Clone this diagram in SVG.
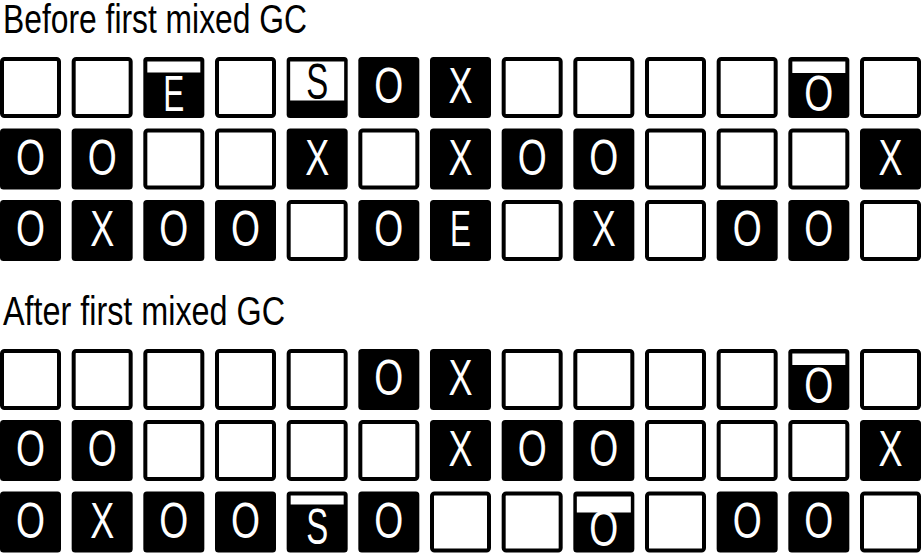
<svg xmlns="http://www.w3.org/2000/svg" xmlns:xlink="http://www.w3.org/1999/xlink" width="921" height="560" viewBox="0 0 921 560">
<style>
.w{fill:#fff;stroke:#000;stroke-width:4}
.b{fill:#000}
.bar{fill:#fff}
.t{font-family:"Liberation Sans",Arial,sans-serif;font-size:40px;fill:#000}
.l{font-family:"Liberation Sans",Arial,sans-serif;font-size:50px;text-anchor:middle}
.lw{fill:#fff}
.lb{fill:#000}
</style>
<defs>
<rect id="wc" class="w" x="2" y="2" width="57" height="57" rx="2.5"/>
<rect id="bc" class="b" width="61" height="61" rx="3.5"/>
</defs>
<rect width="921" height="560" fill="#fff"/>
<text class="t" x="3" y="33" textLength="304" lengthAdjust="spacingAndGlyphs">Before first mixed GC</text>
<text class="t" x="3" y="325" textLength="282" lengthAdjust="spacingAndGlyphs">After first mixed GC</text>
<g id="before">
<!-- row 1 -->
<g id="b1-1" transform="translate(0,57)"><use href="#wc"/></g>
<g id="b1-2" transform="translate(71.67,57)"><use href="#wc"/></g>
<g id="b1-3" transform="translate(143.33,57)"><use href="#bc"/><rect class="bar" x="4" y="4.5" width="53" height="11"/><text class="l lw" x="30.5" y="54" textLength="21" lengthAdjust="spacingAndGlyphs">E</text></g>
<g id="b1-4" transform="translate(215,57)"><use href="#wc"/></g>
<g id="b1-5" transform="translate(286.67,57)"><use href="#bc"/><rect class="bar" x="3.5" y="4.5" width="54" height="39"/><text class="l lb" x="30.5" y="42" textLength="22" lengthAdjust="spacingAndGlyphs">S</text></g>
<g id="b1-6" transform="translate(358.33,57)"><use href="#bc"/><text class="l lw" x="30.5" y="46" textLength="29" lengthAdjust="spacingAndGlyphs">O</text></g>
<g id="b1-7" transform="translate(430,57)"><use href="#bc"/><text class="l lw" x="30.5" y="46" textLength="24" lengthAdjust="spacingAndGlyphs">X</text></g>
<g id="b1-8" transform="translate(501.67,57)"><use href="#wc"/></g>
<g id="b1-9" transform="translate(573.33,57)"><use href="#wc"/></g>
<g id="b1-10" transform="translate(645,57)"><use href="#wc"/></g>
<g id="b1-11" transform="translate(716.67,57)"><use href="#wc"/></g>
<g id="b1-12" transform="translate(788.33,57)"><use href="#bc"/><rect class="bar" x="4" y="4.5" width="53" height="11.5"/><text class="l lw" x="30.5" y="54" textLength="29" lengthAdjust="spacingAndGlyphs">O</text></g>
<g id="b1-13" transform="translate(860,57)"><use href="#wc"/></g>
<!-- row 2 -->
<g id="b2-1" transform="translate(0,128.5)"><use href="#bc"/><text class="l lw" x="30.5" y="46" textLength="29" lengthAdjust="spacingAndGlyphs">O</text></g>
<g id="b2-2" transform="translate(71.67,128.5)"><use href="#bc"/><text class="l lw" x="30.5" y="46" textLength="29" lengthAdjust="spacingAndGlyphs">O</text></g>
<g id="b2-3" transform="translate(143.33,128.5)"><use href="#wc"/></g>
<g id="b2-4" transform="translate(215,128.5)"><use href="#wc"/></g>
<g id="b2-5" transform="translate(286.67,128.5)"><use href="#bc"/><text class="l lw" x="30.5" y="46" textLength="24" lengthAdjust="spacingAndGlyphs">X</text></g>
<g id="b2-6" transform="translate(358.33,128.5)"><use href="#wc"/></g>
<g id="b2-7" transform="translate(430,128.5)"><use href="#bc"/><text class="l lw" x="30.5" y="46" textLength="24" lengthAdjust="spacingAndGlyphs">X</text></g>
<g id="b2-8" transform="translate(501.67,128.5)"><use href="#bc"/><text class="l lw" x="30.5" y="46" textLength="29" lengthAdjust="spacingAndGlyphs">O</text></g>
<g id="b2-9" transform="translate(573.33,128.5)"><use href="#bc"/><text class="l lw" x="30.5" y="46" textLength="29" lengthAdjust="spacingAndGlyphs">O</text></g>
<g id="b2-10" transform="translate(645,128.5)"><use href="#wc"/></g>
<g id="b2-11" transform="translate(716.67,128.5)"><use href="#wc"/></g>
<g id="b2-12" transform="translate(788.33,128.5)"><use href="#wc"/></g>
<g id="b2-13" transform="translate(860,128.5)"><use href="#bc"/><text class="l lw" x="30.5" y="46" textLength="24" lengthAdjust="spacingAndGlyphs">X</text></g>
<!-- row 3 -->
<g id="b3-1" transform="translate(0,200)"><use href="#bc"/><text class="l lw" x="30.5" y="46" textLength="29" lengthAdjust="spacingAndGlyphs">O</text></g>
<g id="b3-2" transform="translate(71.67,200)"><use href="#bc"/><text class="l lw" x="30.5" y="46" textLength="24" lengthAdjust="spacingAndGlyphs">X</text></g>
<g id="b3-3" transform="translate(143.33,200)"><use href="#bc"/><text class="l lw" x="30.5" y="46" textLength="29" lengthAdjust="spacingAndGlyphs">O</text></g>
<g id="b3-4" transform="translate(215,200)"><use href="#bc"/><text class="l lw" x="30.5" y="46" textLength="29" lengthAdjust="spacingAndGlyphs">O</text></g>
<g id="b3-5" transform="translate(286.67,200)"><use href="#wc"/></g>
<g id="b3-6" transform="translate(358.33,200)"><use href="#bc"/><text class="l lw" x="30.5" y="46" textLength="29" lengthAdjust="spacingAndGlyphs">O</text></g>
<g id="b3-7" transform="translate(430,200)"><use href="#bc"/><text class="l lw" x="30.5" y="46" textLength="21" lengthAdjust="spacingAndGlyphs">E</text></g>
<g id="b3-8" transform="translate(501.67,200)"><use href="#wc"/></g>
<g id="b3-9" transform="translate(573.33,200)"><use href="#bc"/><text class="l lw" x="30.5" y="46" textLength="24" lengthAdjust="spacingAndGlyphs">X</text></g>
<g id="b3-10" transform="translate(645,200)"><use href="#wc"/></g>
<g id="b3-11" transform="translate(716.67,200)"><use href="#bc"/><text class="l lw" x="30.5" y="46" textLength="29" lengthAdjust="spacingAndGlyphs">O</text></g>
<g id="b3-12" transform="translate(788.33,200)"><use href="#bc"/><text class="l lw" x="30.5" y="46" textLength="29" lengthAdjust="spacingAndGlyphs">O</text></g>
<g id="b3-13" transform="translate(860,200)"><use href="#wc"/></g>
</g>
<g id="after">
<!-- row 1 -->
<g id="a1-1" transform="translate(0,349)"><use href="#wc"/></g>
<g id="a1-2" transform="translate(71.67,349)"><use href="#wc"/></g>
<g id="a1-3" transform="translate(143.33,349)"><use href="#wc"/></g>
<g id="a1-4" transform="translate(215,349)"><use href="#wc"/></g>
<g id="a1-5" transform="translate(286.67,349)"><use href="#wc"/></g>
<g id="a1-6" transform="translate(358.33,349)"><use href="#bc"/><text class="l lw" x="30.5" y="46" textLength="29" lengthAdjust="spacingAndGlyphs">O</text></g>
<g id="a1-7" transform="translate(430,349)"><use href="#bc"/><text class="l lw" x="30.5" y="46" textLength="24" lengthAdjust="spacingAndGlyphs">X</text></g>
<g id="a1-8" transform="translate(501.67,349)"><use href="#wc"/></g>
<g id="a1-9" transform="translate(573.33,349)"><use href="#wc"/></g>
<g id="a1-10" transform="translate(645,349)"><use href="#wc"/></g>
<g id="a1-11" transform="translate(716.67,349)"><use href="#wc"/></g>
<g id="a1-12" transform="translate(788.33,349)"><use href="#bc"/><rect class="bar" x="4" y="4.5" width="53" height="11.5"/><text class="l lw" x="30.5" y="54" textLength="29" lengthAdjust="spacingAndGlyphs">O</text></g>
<g id="a1-13" transform="translate(860,349)"><use href="#wc"/></g>
<!-- row 2 -->
<g id="a2-1" transform="translate(0,420)"><use href="#bc"/><text class="l lw" x="30.5" y="46" textLength="29" lengthAdjust="spacingAndGlyphs">O</text></g>
<g id="a2-2" transform="translate(71.67,420)"><use href="#bc"/><text class="l lw" x="30.5" y="46" textLength="29" lengthAdjust="spacingAndGlyphs">O</text></g>
<g id="a2-3" transform="translate(143.33,420)"><use href="#wc"/></g>
<g id="a2-4" transform="translate(215,420)"><use href="#wc"/></g>
<g id="a2-5" transform="translate(286.67,420)"><use href="#wc"/></g>
<g id="a2-6" transform="translate(358.33,420)"><use href="#wc"/></g>
<g id="a2-7" transform="translate(430,420)"><use href="#bc"/><text class="l lw" x="30.5" y="46" textLength="24" lengthAdjust="spacingAndGlyphs">X</text></g>
<g id="a2-8" transform="translate(501.67,420)"><use href="#bc"/><text class="l lw" x="30.5" y="46" textLength="29" lengthAdjust="spacingAndGlyphs">O</text></g>
<g id="a2-9" transform="translate(573.33,420)"><use href="#bc"/><text class="l lw" x="30.5" y="46" textLength="29" lengthAdjust="spacingAndGlyphs">O</text></g>
<g id="a2-10" transform="translate(645,420)"><use href="#wc"/></g>
<g id="a2-11" transform="translate(716.67,420)"><use href="#wc"/></g>
<g id="a2-12" transform="translate(788.33,420)"><use href="#wc"/></g>
<g id="a2-13" transform="translate(860,420)"><use href="#bc"/><text class="l lw" x="30.5" y="46" textLength="24" lengthAdjust="spacingAndGlyphs">X</text></g>
<!-- row 3 -->
<g id="a3-1" transform="translate(0,491.5)"><use href="#bc"/><text class="l lw" x="30.5" y="46" textLength="29" lengthAdjust="spacingAndGlyphs">O</text></g>
<g id="a3-2" transform="translate(71.67,491.5)"><use href="#bc"/><text class="l lw" x="30.5" y="46" textLength="24" lengthAdjust="spacingAndGlyphs">X</text></g>
<g id="a3-3" transform="translate(143.33,491.5)"><use href="#bc"/><text class="l lw" x="30.5" y="46" textLength="29" lengthAdjust="spacingAndGlyphs">O</text></g>
<g id="a3-4" transform="translate(215,491.5)"><use href="#bc"/><text class="l lw" x="30.5" y="46" textLength="29" lengthAdjust="spacingAndGlyphs">O</text></g>
<g id="a3-5" transform="translate(286.67,491.5)"><use href="#bc"/><rect class="bar" x="4" y="4" width="53" height="9"/><text class="l lw" x="30.5" y="52" textLength="22" lengthAdjust="spacingAndGlyphs">S</text></g>
<g id="a3-6" transform="translate(358.33,491.5)"><use href="#bc"/><text class="l lw" x="30.5" y="46" textLength="29" lengthAdjust="spacingAndGlyphs">O</text></g>
<g id="a3-7" transform="translate(430,491.5)"><use href="#wc"/></g>
<g id="a3-8" transform="translate(501.67,491.5)"><use href="#wc"/></g>
<g id="a3-9" transform="translate(573.33,491.5)"><use href="#bc"/><rect class="bar" x="3.5" y="5" width="54" height="16"/><text class="l lw" x="30.5" y="54.5" textLength="29" lengthAdjust="spacingAndGlyphs">O</text></g>
<g id="a3-10" transform="translate(645,491.5)"><use href="#wc"/></g>
<g id="a3-11" transform="translate(716.67,491.5)"><use href="#bc"/><text class="l lw" x="30.5" y="46" textLength="29" lengthAdjust="spacingAndGlyphs">O</text></g>
<g id="a3-12" transform="translate(788.33,491.5)"><use href="#bc"/><text class="l lw" x="30.5" y="46" textLength="29" lengthAdjust="spacingAndGlyphs">O</text></g>
<g id="a3-13" transform="translate(860,491.5)"><use href="#wc"/></g>
</g>
<g id="connectors"/>
</svg>
